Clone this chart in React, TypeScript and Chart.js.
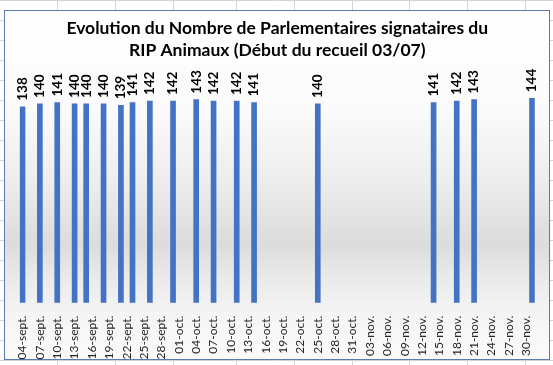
import { useEffect, useRef } from 'react';
import { Chart, registerables } from 'chart.js';

Chart.register(...registerables);

// ---- Data ----
const titleLines = [
  'Evolution du Nombre de Parlementaires signataires du',
  'RIP Animaux (Début du recueil 03/07)',
];
const axisStart = '2020-09-04';
const axisEnd = '2020-12-01';
const monthAbbr = ['janv.', 'févr.', 'mars', 'avr.', 'mai', 'juin', 'juil.', 'août', 'sept.', 'oct.', 'nov.', 'déc.'];
const tickEvery = 3;
const pointDates = [
  '2020-09-04', '2020-09-07', '2020-09-10', '2020-09-13', '2020-09-15', '2020-09-18',
  '2020-09-21', '2020-09-23', '2020-09-26', '2020-09-30', '2020-10-04', '2020-10-07',
  '2020-10-11', '2020-10-14', '2020-10-25', '2020-11-14', '2020-11-18', '2020-11-21',
  '2020-12-01',
];
const signatories = [138, 140, 141, 140, 140, 140, 139, 141, 142, 142, 143, 142, 142, 141, 140, 141, 142, 143, 144];

// Build daily category axis from the start/end dates
const DAY = 86400000;
const toUTC = (s: string) => {
  const [y, m, d] = s.split('-').map(Number);
  return Date.UTC(y, m - 1, d);
};
const dayLabels: string[] = [];
const dayValues: (number | null)[] = [];
for (let t = toUTC(axisStart); t <= toUTC(axisEnd); t += DAY) {
  const dt = new Date(t);
  dayLabels.push(String(dt.getUTCDate()).padStart(2, '0') + '-' + monthAbbr[dt.getUTCMonth()]);
  const idx = pointDates.findIndex((p) => toUTC(p) === t);
  dayValues.push(idx >= 0 ? signatories[idx] : null);
}

const W = 553;
const H = 365;

const frame = {
  id: 'frame',
  beforeDraw(chart: any) {
    const ctx = chart.ctx as CanvasRenderingContext2D;
    ctx.save();
    ctx.fillStyle = '#ffffff';
    ctx.fillRect(0, 0, W, H);
    // spreadsheet grid behind the chart object
    ctx.strokeStyle = '#d4d4d4';
    ctx.lineWidth = 1;
    const cols = [57, 115, 173, 236, 294, 352, 409, 467, 525];
    cols.forEach((x) => {
      ctx.beginPath();
      ctx.moveTo(x + 0.5, 0);
      ctx.lineTo(x + 0.5, H);
      ctx.stroke();
    });
    for (let y = 0; y < H; y += 20) {
      ctx.beginPath();
      ctx.moveTo(0, y + 0.5);
      ctx.lineTo(W, y + 0.5);
      ctx.stroke();
    }
    // chart object box
    const bx = 4, by = 10, bw = 545, bh = 349;
    const g = ctx.createLinearGradient(0, by, 0, by + bh);
    g.addColorStop(0, '#ffffff');
    g.addColorStop(0.28, '#fbfbfb');
    g.addColorStop(0.48, '#eeeeee');
    g.addColorStop(0.67, '#dcdcdc');
    g.addColorStop(0.76, '#e9e9e9');
    g.addColorStop(0.86, '#f4f4f4');
    g.addColorStop(1, '#fbfbfb');
    ctx.fillStyle = g;
    ctx.fillRect(bx, by, bw, bh);
    ctx.strokeStyle = '#5b79b3';
    ctx.strokeRect(bx + 0.5, by + 0.5, bw, bh);
    ctx.restore();
  },
};

const barLabels = {
  id: 'barLabels',
  afterDatasetsDraw(chart: any) {
    const ctx = chart.ctx as CanvasRenderingContext2D;
    const meta = chart.getDatasetMeta(0);
    const data = chart.data.datasets[0].data;
    ctx.save();
    ctx.font = 'bold 13.5px Lato';
    ctx.fillStyle = '#000000';
    ctx.textAlign = 'left';
    ctx.textBaseline = 'middle';
    meta.data.forEach((el: any, i: number) => {
      const v = data[i];
      if (v == null) return;
      ctx.save();
      ctx.translate(el.x, el.y - 6);
      ctx.rotate(-Math.PI / 2);
      ctx.fillText(String(v), 0, 0);
      ctx.restore();
    });
    ctx.restore();
  },
};

export default function App() {
  const ref = useRef<HTMLCanvasElement | null>(null);
  useEffect(() => {
    document.body.style.margin = '0';
    if (!ref.current) return;
    const chart = new Chart(ref.current, {
      type: 'bar',
      data: {
        labels: dayLabels,
        datasets: [
          {
            data: dayValues,
            backgroundColor: '#4472C4',
            barThickness: 5,
          },
        ],
      },
      options: {
        animation: false,
        responsive: false,
        devicePixelRatio: 1,
        layout: { padding: { left: 19.6, right: 18.1, top: 0, bottom: 0 } },
        plugins: {
          legend: { display: false },
          tooltip: { enabled: false },
          title: {
            display: true,
            text: titleLines,
            color: '#000000',
            font: { family: 'Lato', size: 17.5, weight: 'bold', lineHeight: 1.3 },
            padding: { top: 16.6, bottom: 13.4 },
          },
        },
        scales: {
          x: {
            type: 'category',
            offset: true,
            grid: { display: false },
            border: { display: false },
            ticks: {
              autoSkip: false,
              minRotation: 90,
              maxRotation: 90,
              padding: 5,
              color: '#262626',
              font: { family: 'Lato', size: 12 },
              callback: function (this: any, v: any, i: number) {
                return i % tickEvery === 0 ? this.getLabelForValue(v) : '';
              },
            },
            afterFit: (s: any) => {
              s.height = 62.3;
              s.paddingLeft = 0;
              s.paddingRight = 0;
            },
          },
          y: { display: false, min: 0, max: 160 },
        },
      },
      plugins: [frame, barLabels],
    });
    return () => chart.destroy();
  }, []);
  return <canvas ref={ref} width={W} height={H} style={{ display: 'block', width: W, height: H }} />;
}
